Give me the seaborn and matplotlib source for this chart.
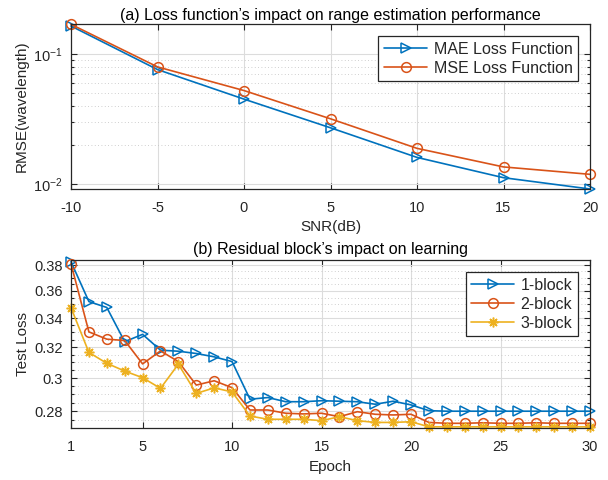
import numpy as np
import pandas as pd
import matplotlib
matplotlib.use("Agg")
import matplotlib.pyplot as plt
import matplotlib.ticker as mticker
import seaborn as sns

# ---- data ----
snr = [-10, -5, 0, 5, 10, 15, 20]
mae_rmse = [0.165, 0.0763, 0.0452, 0.0272, 0.0161, 0.01124, 0.0092]
mse_rmse = [0.170, 0.0800, 0.0526, 0.0319, 0.0189, 0.0136, 0.01193]

epochs = list(range(1, 31))
block1 = [0.3826, 0.352, 0.3477, 0.3237, 0.3287, 0.318, 0.3173, 0.3158, 0.3136, 0.3105,
          0.287, 0.288, 0.2855, 0.2855, 0.2861, 0.2858, 0.2855, 0.284, 0.2858, 0.2836,
          0.2802, 0.2799, 0.2799, 0.2799, 0.2799, 0.2799, 0.2799, 0.2799, 0.2799, 0.2799]
block2 = [0.381, 0.3304, 0.3254, 0.3245, 0.309, 0.3175, 0.3105, 0.2956, 0.2983, 0.294,
          0.2806, 0.2806, 0.2787, 0.2783, 0.2787, 0.2767, 0.2796, 0.2781, 0.2777, 0.2781,
          0.2734, 0.2729, 0.2729, 0.2732, 0.2729, 0.2729, 0.2732, 0.2729, 0.2729, 0.2729]
block3 = [0.3476, 0.3165, 0.3094, 0.3044, 0.3002, 0.2936, 0.3088, 0.2905, 0.2939, 0.2914,
          0.2771, 0.2752, 0.2752, 0.2752, 0.2744, 0.2767, 0.2744, 0.2734, 0.2734, 0.2738,
          0.2709, 0.2709, 0.2709, 0.2709, 0.2709, 0.2709, 0.2709, 0.2709, 0.2709, 0.2709]

top_labels = ["MAE Loss Function", "MSE Loss Function"]
bot_labels = ["1-block", "2-block", "3-block"]
top_title = "(a) Loss function\u2019s impact on range estimation performance"
bot_title = "(b) Residual block\u2019s impact on learning"

# ---- style ----
sns.set_theme(style="white")
plt.rcParams['font.family'] = ['Liberation Sans', 'DejaVu Sans']
plt.rcParams['axes.unicode_minus'] = False
plt.rcParams['mathtext.fontset'] = 'custom'
plt.rcParams['mathtext.rm'] = 'Liberation Sans'

C1, C2, C3 = "#0072BD", "#D95319", "#EDB120"
AX = "#262626"
FS_TICK = 10.5
FS_LAB = 11
FS_TITLE = 11.5
FS_LEG = 11.5

fig = plt.figure(figsize=(6.08, 4.8), dpi=100)
ax1 = fig.add_axes([71/608, 1-189/480, (590-71)/608, (189-24)/480])
ax2 = fig.add_axes([71/608, 1-427.7/480, (590-71)/608, (427.7-260)/480])

kw = dict(markersize=7, markeredgewidth=1.1, linewidth=1.2, clip_on=False)

df1 = pd.DataFrame({"snr": snr, "mae": mae_rmse, "mse": mse_rmse})
sns.lineplot(data=df1, x="snr", y="mae", ax=ax1, color=C1, marker=">",
             markerfacecolor="none", markeredgecolor=C1, label=top_labels[0], **kw)
sns.lineplot(data=df1, x="snr", y="mse", ax=ax1, color=C2, marker="o",
             markerfacecolor="none", markeredgecolor=C2, label=top_labels[1], **kw)

df2 = pd.DataFrame({"epoch": epochs, "b1": block1, "b2": block2, "b3": block3})
sns.lineplot(data=df2, x="epoch", y="b1", ax=ax2, color=C1, marker=">",
             markerfacecolor="none", markeredgecolor=C1, label=bot_labels[0], **kw)
sns.lineplot(data=df2, x="epoch", y="b2", ax=ax2, color=C2, marker="o",
             markerfacecolor="none", markeredgecolor=C2, label=bot_labels[1], **kw)
sns.lineplot(data=df2, x="epoch", y="b3", ax=ax2, color=C3, marker=(8, 2, 0),
             markeredgecolor=C3, label=bot_labels[2], **kw)

# top axes
ax1.set_yscale("log")
ax1.set_xlim(-10, 20)
ax1.set_ylim(0.0092, 0.171)
ax1.set_xticks(snr)
ax1.xaxis.set_major_formatter(mticker.FuncFormatter(lambda v, p: "%d" % v))
ax1.yaxis.set_major_locator(mticker.FixedLocator([0.01, 0.1]))
ax1.yaxis.set_minor_locator(mticker.FixedLocator([k * 0.01 for k in range(2, 10)] + [0.2]))
ax1.yaxis.set_minor_formatter(mticker.NullFormatter())
ax1.set_xlabel("SNR(dB)", fontsize=FS_LAB, color=AX, labelpad=3)
ax1.set_ylabel("RMSE(wavelength)", fontsize=FS_LAB, color=AX, labelpad=3)
ax1.set_title(top_title, fontsize=FS_TITLE, color="black", pad=3)

# bottom axes
ax2.set_yscale("log")
ax2.set_xlim(1, 30)
ax2.set_ylim(0.2704, 0.384)
ax2.set_xticks([1, 5, 10, 15, 20, 25, 30])
ax2.yaxis.set_major_locator(mticker.FixedLocator([0.28, 0.30, 0.32, 0.34, 0.36, 0.38]))
ax2.yaxis.set_major_formatter(mticker.FuncFormatter(lambda v, p: "%g" % round(v, 3)))
ax2.yaxis.set_minor_locator(mticker.FixedLocator(list(np.arange(0.27, 0.386, 0.005))))
ax2.yaxis.set_minor_formatter(mticker.NullFormatter())
ax2.set_xlabel("Epoch", fontsize=FS_LAB, color=AX, labelpad=4)
ax2.set_ylabel("Test Loss", fontsize=FS_LAB, color=AX, labelpad=3)
ax2.set_title(bot_title, fontsize=FS_TITLE, color="black", pad=4)

for ax in (ax1, ax2):
    ax.set_facecolor("white")
    for s in ax.spines.values():
        s.set_color(AX)
        s.set_linewidth(0.9)
        s.set_visible(True)
    ax.tick_params(which="both", direction="in", top=True, right=True,
                   bottom=True, left=True, colors=AX, labelsize=FS_TICK, width=0.8)
    ax.tick_params(which="major", length=4)
    ax.tick_params(axis="y", which="major", pad=6)
    ax.tick_params(axis="x", which="major", pad=9)
    ax.tick_params(which="minor", length=2.5)
    ax.grid(True, which="major", color="#dcdcdc", linewidth=0.8, linestyle="-")
    ax.grid(True, which="minor", axis="y", color="#c0c0c0", linewidth=0.6, linestyle=(0, (1, 3)))
    ax.set_axisbelow(True)
    leg = ax.legend(loc="upper right", fontsize=FS_LEG, frameon=True, fancybox=False,
                    edgecolor=AX, framealpha=1, handlelength=2.7, borderpad=0.35,
                    labelspacing=0.25, handletextpad=0.4, borderaxespad=0.75)
    leg.get_frame().set_linewidth(0.9)

fig.savefig("out.png", dpi=100, facecolor="white")
